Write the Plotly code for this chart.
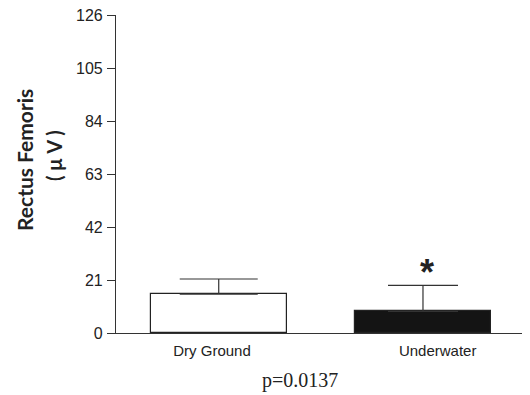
import plotly.graph_objects as go

categories = ["Dry Ground", "Underwater"]
means = [15.4, 8.6]
upper = [21.4, 18.9]
fills = ["white", "#141414"]
y_ticks = [0, 21, 42, 63, 84, 105, 126]

# page body has an 8px margin; figure origin sits at (8, 8) in the window
OFF = 8
W, H = 530 - OFF, 395 - OFF
L, T, B, R = 116 - OFF, 15 - OFF, 62, 0

fig = go.Figure()
cap_widths = [39, 35]
for i, cat in enumerate(categories):
    fig.add_trace(go.Bar(
        x=[i], y=[means[i]], width=0.667,
        marker=dict(color=fills[i], line=dict(color="#222", width=1.2)),
        error_y=dict(type="data", symmetric=False, array=[upper[i] - means[i]],
                     arrayminus=[0], color="#333", thickness=1.2, width=cap_widths[i]),
        showlegend=False,
    ))

pw = W - L - R
ph = H - T - B


def px(x, y):
    return (x - OFF - L) / pw, (H - B - (y - OFF)) / ph


ax1 = px(24, 160)
ax2 = px(54, 156)
pv = px(300, 380)

fig.update_layout(
    width=W, height=H,
    margin=dict(l=L, r=R, t=T, b=B),
    plot_bgcolor="white", paper_bgcolor="white",
    bargap=0,
    xaxis=dict(range=[-0.503, 1.524], tickvals=[-0.033, 1.072], ticktext=categories,
               showline=True, linecolor="#333", linewidth=1.2, ticks="",
               showgrid=False, zeroline=False, ticklabelstandoff=4,
               tickfont=dict(family="Arial, Liberation Sans", size=15, color="#222")),
    yaxis=dict(range=[0, 126], tickvals=y_ticks, showline=True, linecolor="#333",
               linewidth=1.2, ticks="outside", ticklen=8, tickcolor="#333",
               showgrid=False, zeroline=False, ticklabelstandoff=1,
               ticklabeloverflow="allow",
               tickfont=dict(family="Arial, Liberation Sans", size=16, color="#222")),
    annotations=[
        dict(text="<b>Rectus Femoris</b>", textangle=-90, x=ax1[0], y=ax1[1],
             xref="paper", yref="paper", showarrow=False, xanchor="center", yanchor="middle",
             font=dict(family="Lato, Open Sans", size=21, color="#222")),
        dict(text="<b>( μ V )</b>", textangle=-90, x=ax2[0], y=ax2[1],
             xref="paper", yref="paper", showarrow=False, xanchor="center", yanchor="middle",
             font=dict(family="Lato, Open Sans", size=20, color="#222")),
        dict(text="<b>*</b>", x=1, y=upper[1], xref="x", yref="y", yshift=13, xshift=4,
             showarrow=False, xanchor="center", yanchor="middle",
             font=dict(family="Arial, Liberation Sans", size=36, color="#222")),
        dict(text="p=0.0137", x=pv[0], y=pv[1], xref="paper", yref="paper", showarrow=False,
             xanchor="center", yanchor="middle",
             font=dict(family="Liberation Serif, Times New Roman", size=20, color="#222")),
    ],
)

fig.write_html("out.html")
